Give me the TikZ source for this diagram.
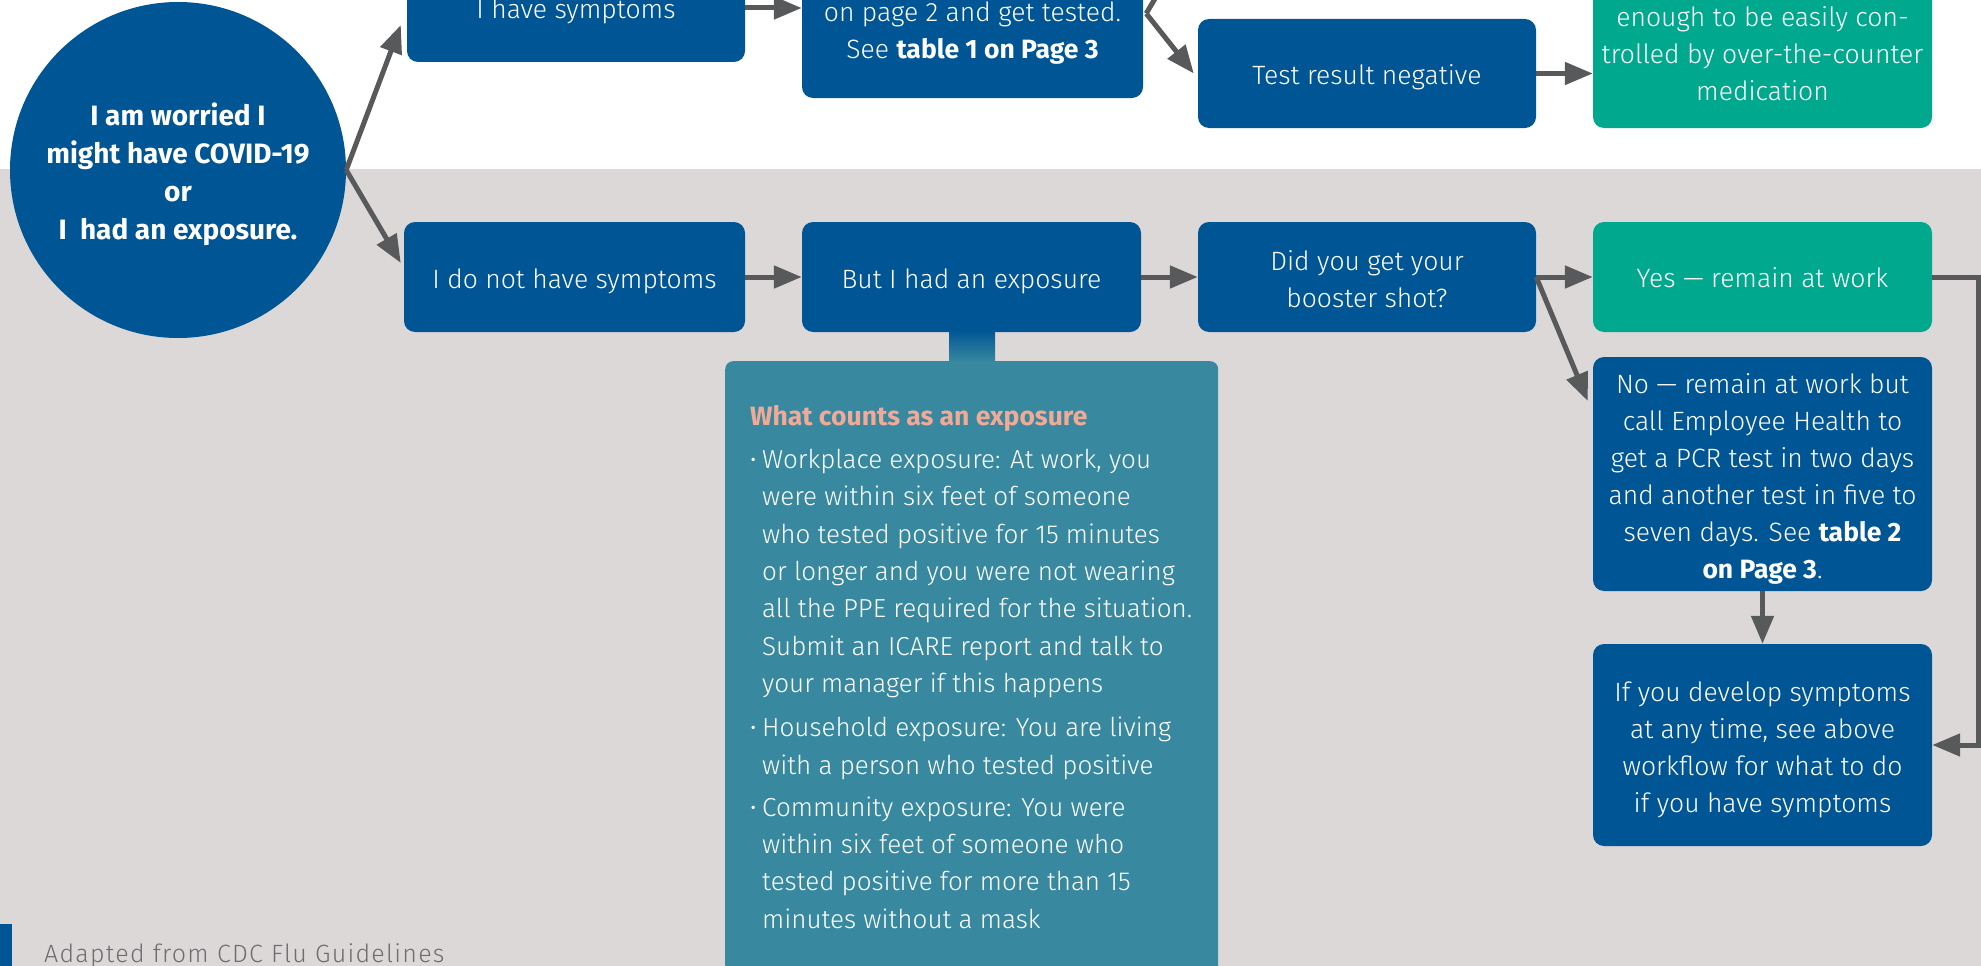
\documentclass[tikz,border=0pt]{standalone}
\usepackage{fontspec}
\setmainfont{Fira Sans}[UprightFont={* Light}, BoldFont={* Bold}]
\newfontfamily\footfont{Fira Sans}[UprightFont={* Light}, LetterSpace=5]
\usetikzlibrary{arrows.meta,calc}
\definecolor{cblue}{RGB}{0,85,148}
\definecolor{cgreen}{RGB}{0,168,142}
\definecolor{cteal}{RGB}{56,137,160}
\definecolor{csalmon}{RGB}{242,170,150}
\definecolor{cbg}{RGB}{220,216,215}
\definecolor{cgray}{RGB}{88,89,91}
\definecolor{cfoot}{RGB}{109,110,113}
\newcommand{\bul}{\makebox[12pt][l]{\raisebox{1pt}{\fontsize{22}{22}\selectfont •}}}
\newcommand{\ind}{\hspace*{12pt}}
% text block lowered by #1 without changing its size
\newcommand{\tx}[2]{\raisebox{-#1}[\height][\depth]{\begin{tabular}{@{}c@{}}#2\end{tabular}}}
\tikzset{
  box/.style={fill=cblue, rounded corners=11pt, text=white, align=center,
    font=\fontsize{26.5}{37}\selectfont, minimum width=339pt, inner sep=0pt},
  gbox/.style={box, fill=cgreen},
  arr/.style={draw=cgray, line width=5pt, line join=miter,
    -{Triangle[length=28pt,width=22pt]}},
}
\begin{document}
\begin{tikzpicture}[x=1pt,y=-1pt]
\useasboundingbox (0,0) rectangle (1981,966);
\clip (0,0) rectangle (1981,966);
\fill[cbg] (0,169) rectangle (1981,966);
% footer
\fill[cblue] (0,924) rectangle (12,966);
\node[anchor=base west, inner sep=0, text=cfoot, font=\footfont\fontsize{25}{25}\selectfont] (foot) at (44,962) {Adapted from CDC Flu Guidelines};

% top row
\node[box, minimum width=338pt, minimum height=110pt] (sym) at (576,7) {\tx{4pt}{I have symptoms}};
\node[box, minimum width=341pt, minimum height=137pt] (pg2) at (972.5,29.5) {\tx{3pt}{on page 2 and get tested.\\ See \textbf{table 1 on Page 3}}};
\node[box, minimum width=338pt, minimum height=109pt] (neg) at (1367,73.5) {\tx{4pt}{Test result negative}};
\node[gbox, minimum width=339pt, minimum height=148pt] (mild) at (1762.5,54) {\tx{2.5pt}{enough to be easily con-\\trolled by over-the-counter\\medication}};

% bottom row
\node[box, minimum width=341pt, minimum height=110pt] (nosym) at (574.5,277) {\tx{4pt}{I do not have symptoms}};
\node[box, minimum width=339pt, minimum height=110pt] (exp) at (971.5,277) {\tx{4pt}{But I had an exposure}};
\node[box, minimum width=338pt, minimum height=110pt] (boost) at (1367,277) {\tx{4.5pt}{Did you get your\\booster shot?}};
\node[gbox, minimum width=339pt, minimum height=110pt] (yes) at (1762.5,277) {\tx{3pt}{Yes — remain at work}};
\node[box, minimum width=339pt, minimum height=234pt] (no) at (1762.5,474) {\tx{5pt}{No — remain at work but\\call Employee Health to\\get a PCR test in two days\\and another test in five to\\seven days. See \textbf{table 2}\\\textbf{on Page 3}.}};
\node[box, minimum width=339pt, minimum height=202pt] (ifdev) at (1762.5,745) {\tx{5pt}{If you develop symptoms\\at any time, see above\\workflow for what to do\\if you have symptoms}};

% exposure info box
\shade[top color=cblue, bottom color=cteal] (949,330) rectangle (995,362);
\node[fill=cteal, rounded corners=8pt, minimum width=493pt, minimum height=612pt, inner sep=0, anchor=north west] (what) at (725,361) {};
\node[anchor=north west, inner sep=0, align=left, text=white, font=\fontsize{26}{37.4}\selectfont] (whattext) at (750,405) {%
\textcolor{csalmon}{\fontsize{26.5}{37.4}\selectfont\textbf{What counts as an exposure}}\\[5.6pt]
\bul Workplace exposure: At work, you\\
\ind were within six feet of someone\\
\ind who tested positive for 15 minutes\\
\ind or longer and you were not wearing\\
\ind all the PPE required for the situation.\\
\ind Submit an ICARE report and talk to\\
\ind your manager if this happens\\[6.6pt]
\bul Household exposure: You are living\\
\ind with a person who tested positive\\[4.6pt]
\bul Community exposure: You were\\
\ind within six feet of someone who\\
\ind tested positive for more than 15\\
\ind minutes without a mask};

% circle
\node[circle, fill=cblue, minimum size=336pt, inner sep=0pt, text=white, align=center,
  font=\bfseries\fontsize{28}{38}\selectfont] (circ) at (178,170)
  {\tx{5pt}{I am worried I\\might have COVID-19\\or\\I\ \ had an exposure.}};

% connectors
\coordinate (vtx) at ($(pg2.east)+(3,-16)$);
\coordinate (offtop) at (1172,-30);
\draw[arr] (circ.east) -- ($(sym.west)+(-6,18)$);
\draw[arr] (circ.east) -- ($(nosym.west)+(-3,-14)$);
\draw[arr] ($(sym.east)+(0,1)$) -- ($(pg2.west)+(0,-21.5)$);
\draw[arr] (vtx) -- (offtop);
\draw[arr] (vtx) -- ($(neg.west)+(-4,0)$);
\draw[arr] (neg.east) -- (mild.west |- neg.east);
\draw[arr] (nosym.east) -- (exp.west);
\draw[arr] (exp.east) -- (boost.west);
\draw[arr] (boost.east) -- (yes.west);
\draw[arr] (boost.east) -- ($(no.west)+(-5,-73)$);
\draw[arr] (no.south) -- (ifdev.north);
\draw[arr] (yes.east) -- ++(46,0) |- (ifdev.east);
\end{tikzpicture}
\end{document}
